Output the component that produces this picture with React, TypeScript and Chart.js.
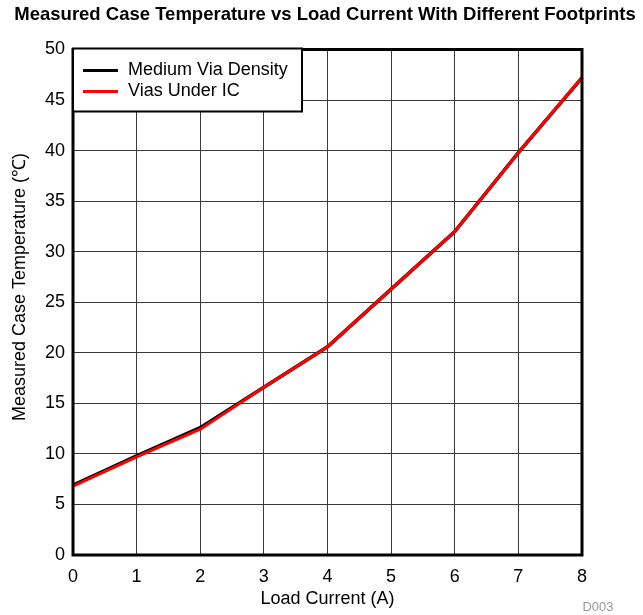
import React, { useEffect, useRef } from "react";
import { Chart, registerables } from "chart.js";

Chart.register(...registerables);

const loadCurrent = [0, 1, 2, 3, 4, 5, 6, 7, 8];
const mediumViaDensity = [6.9, 9.8, 12.6, 16.6, 20.6, 26.3, 32.0, 39.8, 47.2];
const viasUnderIC = [6.8, 9.7, 12.45, 16.6, 20.6, 26.3, 32.0, 39.8, 47.25];
const seriesLabels = ["Medium Via Density", "Vias Under IC"];
const seriesColors = ["#000000", "#ff0000"];
const chartTitle = "Measured Case Temperature vs Load Current With Different Footprints";
const xTitle = "Load Current (A)";
const yTitle = "Measured Case Temperature (℃)";
const figureCode = "D003";

const FONT = "'Liberation Sans', Arial, sans-serif";

const decorPlugin = {
  id: "decor",
  afterDraw(chart: any) {
    const ctx = chart.ctx;
    const a = chart.chartArea;
    ctx.save();
    // frame
    ctx.strokeStyle = "#000";
    ctx.lineWidth = 3;
    ctx.strokeRect(a.left, a.top, a.right - a.left, a.bottom - a.top);
    // title
    ctx.fillStyle = "#000";
    ctx.font = `bold 18.5px ${FONT}`;
    ctx.textAlign = "center";
    ctx.textBaseline = "middle";
    ctx.fillText(chartTitle, 325, 15);
    // y axis title
    ctx.save();
    ctx.translate(20, 287);
    ctx.rotate(-Math.PI / 2);
    ctx.font = `18px ${FONT}`;
    ctx.fillText(yTitle, 0, 0);
    ctx.restore();
    // legend
    const lx = a.left;
    const ly = a.top - 1;
    const lw = 229;
    const lh = 63;
    ctx.fillStyle = "#fff";
    ctx.fillRect(lx, ly, lw, lh);
    ctx.lineWidth = 2;
    ctx.strokeStyle = "#000";
    ctx.strokeRect(lx, ly, lw, lh);
    ctx.font = `18px ${FONT}`;
    ctx.textAlign = "left";
    ctx.textBaseline = "middle";
    const legendItems = [...chart.data.datasets].sort((p: any, q: any) => p.legendIndex - q.legendIndex);
    legendItems.forEach((ds: any, i: number) => {
      const y = ly + 22 + i * 21;
      ctx.strokeStyle = ds.borderColor;
      ctx.lineWidth = 3;
      ctx.beginPath();
      ctx.moveTo(lx + 10, y);
      ctx.lineTo(lx + 45, y);
      ctx.stroke();
      ctx.fillStyle = "#000";
      ctx.fillText(ds.label, lx + 55, y);
    });
    // figure code
    ctx.fillStyle = "#999";
    ctx.font = `13px ${FONT}`;
    ctx.textAlign = "center";
    ctx.fillText(figureCode, 598, 607);
    ctx.restore();
  },
};

export default function App() {
  const ref = useRef<HTMLCanvasElement | null>(null);
  useEffect(() => {
    if (!ref.current) return;
    const chart = new Chart(ref.current, {
      type: "line",
      data: {
        labels: loadCurrent,
        datasets: [
          {
            label: seriesLabels[1],
            legendIndex: 1,
            data: loadCurrent.map((x, i) => ({ x, y: viasUnderIC[i] })),
            borderColor: seriesColors[1],
            backgroundColor: seriesColors[1],
            borderWidth: 3,
            pointRadius: 0,
            tension: 0,
          },
          {
            label: seriesLabels[0],
            legendIndex: 0,
            data: loadCurrent.map((x, i) => ({ x, y: mediumViaDensity[i] })),
            borderColor: seriesColors[0],
            backgroundColor: seriesColors[0],
            borderWidth: 3.5,
            pointRadius: 0,
            tension: 0,
          },
        ],
      },
      options: {
        responsive: false,
        animation: false,
        layout: { padding: { top: 49.5, right: 61, left: 0, bottom: 0 } },
        plugins: {
          legend: { display: false },
          title: { display: false },
          tooltip: { enabled: false },
        },
        scales: {
          x: {
            type: "linear",
            min: 0,
            max: 8,
            afterFit: (s: any) => {
              s.height = 60;
            },
            ticks: {
              stepSize: 1,
              padding: 11,
              color: "#000",
              font: { family: FONT, size: 18 },
            },
            grid: { color: "#3a3a3a", lineWidth: 1, drawTicks: false },
            border: { display: false },
            title: {
              display: true,
              text: xTitle,
              color: "#000",
              font: { family: FONT, size: 18 },
              padding: { top: 0, bottom: 5 },
            },
          },
          y: {
            type: "linear",
            min: 0,
            max: 50,
            afterFit: (s: any) => {
              s.width = 73;
            },
            ticks: {
              stepSize: 5,
              padding: 8,
              color: "#000",
              font: { family: FONT, size: 18 },
            },
            grid: { color: "#3a3a3a", lineWidth: 1, drawTicks: false },
            border: { display: false },
            title: { display: false },
          },
        },
      },
      plugins: [decorPlugin],
    } as any);
    return () => chart.destroy();
  }, []);
  return (
    <div style={{ position: "absolute", left: 0, top: 0, width: 643, height: 615, background: "#fff" }}>
      <canvas ref={ref} width={643} height={615} style={{ display: "block" }} />
    </div>
  );
}
